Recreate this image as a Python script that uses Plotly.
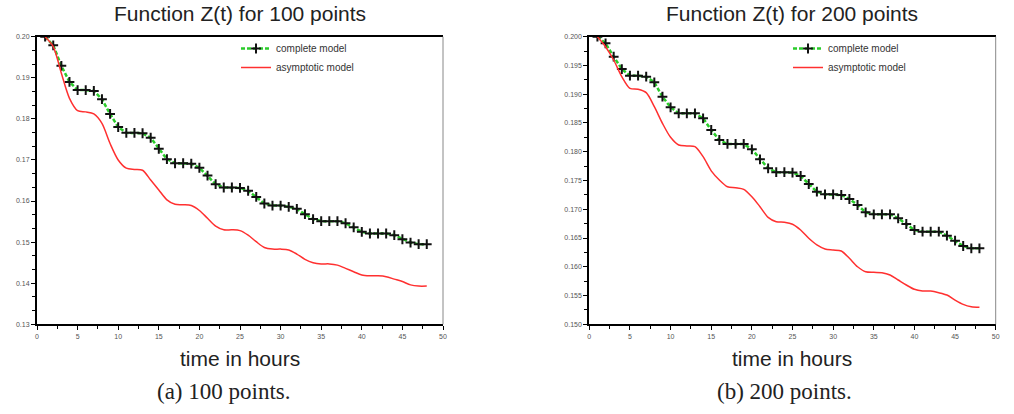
import plotly.graph_objects as go

# ---------------- data ----------------
hours = list(range(1, 49))

complete_100 = [0.2000, 0.1979, 0.1929, 0.1890, 0.1870, 0.1870, 0.1868, 0.1848, 0.1812, 0.1780,
                0.1766, 0.1766, 0.1765, 0.1754, 0.1727, 0.1702, 0.1692, 0.1692, 0.1691, 0.1681,
                0.1662, 0.1641, 0.1633, 0.1633, 0.1632, 0.1625, 0.1610, 0.1594, 0.1589, 0.1589,
                0.1586, 0.1581, 0.1568, 0.1556, 0.1551, 0.1551, 0.1551, 0.1546, 0.1536, 0.1525,
                0.1521, 0.1521, 0.1521, 0.1517, 0.1507, 0.1499, 0.1495, 0.1495]
asympt_100 = [0.2000, 0.1976, 0.1911, 0.1850, 0.1820, 0.1817, 0.1812, 0.1789, 0.1740, 0.1700,
              0.1680, 0.1677, 0.1675, 0.1651, 0.1627, 0.1603, 0.1592, 0.1591, 0.1589, 0.1577,
              0.1558, 0.1539, 0.1530, 0.1530, 0.1528, 0.1517, 0.1501, 0.1487, 0.1483, 0.1483,
              0.1481, 0.1471, 0.1458, 0.1450, 0.1447, 0.1447, 0.1444, 0.1436, 0.1428, 0.1420,
              0.1418, 0.1418, 0.1416, 0.1410, 0.1404, 0.1396, 0.1393, 0.1393]

complete_200 = [0.2000, 0.19885, 0.19652, 0.19438, 0.19322, 0.19322, 0.19305, 0.19207, 0.18957, 0.18773,
                0.18668, 0.18668, 0.18668, 0.18581, 0.18378, 0.18204, 0.18135, 0.18135, 0.18135, 0.18042,
                0.17869, 0.17712, 0.17645, 0.17645, 0.17638, 0.17578, 0.17439, 0.17305, 0.17260, 0.17260,
                0.17248, 0.17178, 0.17074, 0.16947, 0.16912, 0.16912, 0.16912, 0.16843, 0.16744, 0.16639,
                0.16610, 0.16610, 0.16610, 0.16540, 0.16453, 0.16361, 0.16321, 0.16321]
asympt_200 = [0.2000, 0.19826, 0.19595, 0.19305, 0.19103, 0.19086, 0.19027, 0.18783, 0.18494, 0.18251,
              0.18117, 0.18100, 0.18088, 0.17914, 0.17668, 0.17509, 0.17392, 0.17375, 0.17347, 0.17218,
              0.17045, 0.16860, 0.16784, 0.16773, 0.16739, 0.16639, 0.16495, 0.16379, 0.16309, 0.16292,
              0.16274, 0.16147, 0.16001, 0.15914, 0.15904, 0.15897, 0.15857, 0.15770, 0.15683, 0.15608,
              0.15579, 0.15577, 0.15549, 0.15509, 0.15422, 0.15347, 0.15306, 0.15296]

titles = ["Function Z(t) for 100 points", "Function Z(t) for 200 points"]
captions = ["(a) 100 points.", "(b) 200 points."]
x_title = "time in hours"
series_names = ["complete model", "asymptotic model"]

# ---------------- layout geometry ----------------
W, H = 1014, 414
dom_x1 = [37 / W, 443 / W]
dom_x2 = [589.3 / W, 995.7 / W]
dom_y = [1 - 324.3 / H, 1 - 36.7 / H]

GREEN = "#2bcc2b"
RED = "#ff3030"
SANS = "Liberation Sans, Arial, sans-serif"
TICKFONT = dict(family=SANS, size=7, color="#555555")

fig = go.Figure()

def add_panel(xref, yref, legend, comp, asym):
    fig.add_trace(go.Scatter(
        x=hours, y=comp, name=series_names[0], mode="lines+markers",
        xaxis=xref, yaxis=yref, legend=legend,
        line=dict(color=GREEN, width=2.5, dash="4px,2px"),
        marker=dict(symbol="cross-thin", size=7, color="black",
                    line=dict(color="#111111", width=2)),
    ))
    fig.add_trace(go.Scatter(
        x=hours, y=asym, name=series_names[1], mode="lines",
        xaxis=xref, yaxis=yref, legend=legend,
        line=dict(color=RED, width=1.5, shape="spline", smoothing=0.8),
    ))

add_panel("x", "y", "legend", complete_100, asympt_100)
add_panel("x2", "y2", "legend2", complete_200, asympt_200)

def xaxis_cfg(domain, anchor):
    return dict(domain=domain, anchor=anchor, range=[0, 50], tick0=0, dtick=5,
                ticks="outside", ticklen=4, tickwidth=1, tickcolor="black",
                showline=True, linecolor="black", linewidth=2, mirror=True,
                showgrid=False, zeroline=False, tickfont=TICKFONT, automargin=False,
                minor=dict(tick0=0, dtick=2.5, ticks="outside", ticklen=3, tickcolor="black"))

def yaxis_cfg(anchor, rng, dtick, minor_dtick, fmt):
    return dict(domain=dom_y, anchor=anchor, range=rng, tick0=rng[0], dtick=dtick,
                ticks="outside", ticklen=4, tickwidth=1, tickcolor="black",
                showline=True, linecolor="black", linewidth=2, mirror=False,
                showgrid=False, zeroline=False, tickfont=TICKFONT, tickformat=fmt,
                automargin=False,
                minor=dict(tick0=rng[0], dtick=minor_dtick, ticks="outside", ticklen=3,
                           tickcolor="black"))

legend_common = dict(bgcolor="rgba(0,0,0,0)", borderwidth=0, itemwidth=30,
                     font=dict(family=SANS, size=10, color="#333333"),
                     tracegroupgap=0, xanchor="left", yanchor="top")

fig.update_layout(
    width=W, height=H, margin=dict(l=0, r=0, t=0, b=0),
    paper_bgcolor="white", plot_bgcolor="white",
    xaxis=xaxis_cfg(dom_x1, "y"),
    xaxis2=xaxis_cfg(dom_x2, "y2"),
    yaxis=yaxis_cfg("x", [0.13, 0.20], 0.01, 0.01 / 3, ".2f"),
    yaxis2=yaxis_cfg("x2", [0.15, 0.20], 0.005, 0.0025, ".3f"),
    legend=dict(x=236 / W, y=1 - 34 / H, **legend_common),
    legend2=dict(x=788 / W, y=1 - 34 / H, **legend_common),
    showlegend=True,
)

# right borders (gray)
for xr, yr in (("x", "y"), ("x2", "y2")):
    fig.add_shape(type="line", xref=f"{xr} domain", yref=f"{yr} domain",
                  x0=1, x1=1, y0=0, y1=1, line=dict(color="#888888", width=1))

centers = [(dom_x1[0] + dom_x1[1]) / 2, (dom_x2[0] + dom_x2[1]) / 2]
caption_centers = [224 / W, 784 / W]
for cx, ccx, t, c in zip(centers, caption_centers, titles, captions):
    fig.add_annotation(x=cx, y=1 - 13 / H, xref="paper", yref="paper", text=t,
                       showarrow=False, xanchor="center", yanchor="middle",
                       font=dict(family=SANS, size=21, color="#222222"))
    fig.add_annotation(x=cx, y=1 - 358 / H, xref="paper", yref="paper", text=x_title,
                       showarrow=False, xanchor="center", yanchor="middle",
                       font=dict(family=SANS, size=21, color="#222222"))
    fig.add_annotation(x=ccx, y=1 - 391 / H, xref="paper", yref="paper", text=c,
                       showarrow=False, xanchor="center", yanchor="middle",
                       font=dict(family="Liberation Serif, serif", size=23, color="#222222"))

fig.write_html("out.html")
